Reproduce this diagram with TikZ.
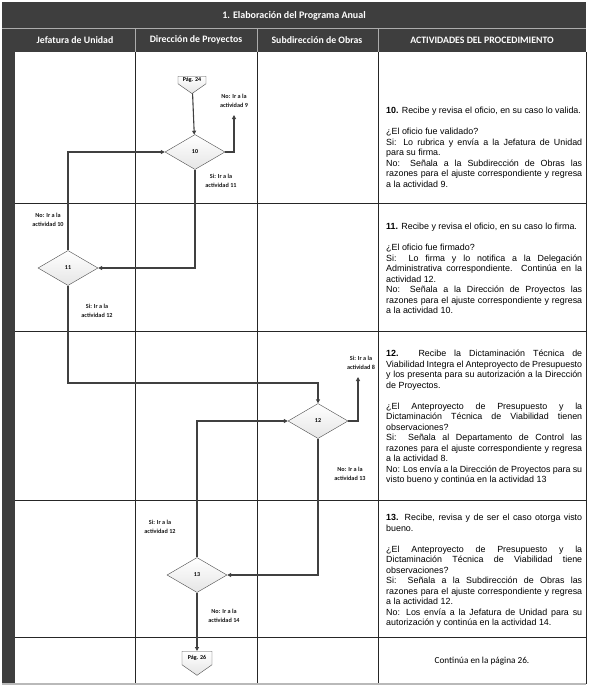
\documentclass[tikz,border=0pt]{standalone}
\usepackage{fontspec}
\setmainfont{Liberation Sans}
\newfontfamily\carlito{Carlito}
\usetikzlibrary{shapes.geometric, shapes.symbols, arrows.meta, positioning}
\usepackage{xcolor}
\definecolor{headgray}{HTML}{3E3E3E}
\definecolor{flowgray}{HTML}{404040}
\hyphenpenalty=10000
\exhyphenpenalty=10000
\tolerance=9999
\hbadness=10000
\hfuzz=4pt

\begin{document}
\begin{tikzpicture}[x=1pt, y=-1pt,
        decision/.style={draw=gray!60!black, diamond, aspect=1.7, minimum width=60pt, minimum height=35pt, inner sep=0pt, top color=white, bottom color=gray!20, font=\carlito\bfseries\fontsize{6}{7}\selectfont},
        offpage/.style={draw=gray!60!black, signal, signal to=south, signal pointer angle=110, inner sep=0pt, top color=white, bottom color=gray!20, font=\carlito\bfseries\fontsize{6}{7}\selectfont},
        arrow/.style={-{Triangle[length=4pt, width=4pt]}, line width=1.1pt, draw=flowgray},
        note/.style={align=center, inner sep=0pt, text=black!90, font=\carlito\bfseries\fontsize{6.2}{8.5}\selectfont},
        lanehead/.style={text=white, font=\carlito\bfseries\fontsize{9.8}{11}\selectfont},
        activity/.style={anchor=north west, text width=196pt, align=justify, inner sep=0pt, font=\fontsize{8.9}{10.5}\selectfont},
        grid/.style={line width=0.8pt, draw=black!85}
    ]
    \useasboundingbox (0,0) rectangle (590,689);

    % header and left strip
    \fill[headgray] (2,2) rectangle (586,52);
    \fill[headgray] (2,2) rectangle (15,684);
    \draw[gray!65, line width=0.6pt] (2,28) -- (586,28);
    \foreach \xx in {135,257,378} \draw[gray!65, line width=0.6pt] (\xx,28) -- (\xx,52);

    \node[lanehead, font=\carlito\bfseries\fontsize{10}{12}\selectfont] (title) at (294,16) {1. Elaboración del Programa Anual};
    \node[lanehead] (lane1) at (75,40) {Jefatura de Unidad};
    \node[lanehead] (lane2) at (196,40) {Dirección de Proyectos};
    \node[lanehead] (lane3) at (317,40) {Subdirección de Obras};
    \node[lanehead] (lane4) at (482,40) {ACTIVIDADES DEL PROCEDIMIENTO};

    % lanes and rows
    \foreach \xx in {135,257,378,586} \draw[grid] (\xx,52) -- (\xx,684);
    \foreach \yy in {203,331,500,637} \draw[grid] (15,\yy) -- (586,\yy);
    \draw[gray!55, line width=1.2pt] (2,684) -- (586,684);

    % flow
    \node[offpage, minimum width=28pt, minimum height=14pt] (p24) at (192,80) {Pág. 24};
    \node[decision] (d10) at (195,152) {10};
    \node[decision] (d11) at (68,268) {11};
    \node[decision] (d12) at (318,421) {12};
    \node[decision] (d13) at (197,575) {13};
    \node[offpage, minimum width=30pt, minimum height=20pt] (p26) at (197,658) {Pág. 26};

    \coordinate (to9) at (234,115);
    \coordinate (to8) at (358,377);
    \coordinate (down11) at (68,383);

    \draw[arrow] (p24) -- (d10);
    \draw[arrow] (d10.east) -| (to9);
    \draw[arrow] (d10.south) |- (d11.east);
    \draw[arrow] (d11.north) |- (d10.west);
    \draw[arrow] (d11.south) -- (down11) -| (d12.north);
    \draw[arrow] (d12.east) -| (to8);
    \draw[arrow] (d12.south) |- (d13.east);
    \draw[arrow] (d13.north) |- (d12.west);
    \draw[arrow] (d13.south) -- (p26.north);

    \node[note] (n9) at (234,101) {No: Ir a la\\actividad 9};
    \node[note] (n11) at (221,181) {Si: Ir a la\\actividad 11};
    \node[note] (n10) at (48,220) {No: Ir a la\\actividad 10};
    \node[note] (n12a) at (97,311) {Si: Ir a la\\actividad 12};
    \node[note] (n8) at (361,363) {Si: Ir a la\\actividad 8};
    \node[note] (n13) at (350,474) {No: Ir a la\\actividad 13};
    \node[note] (n12b) at (160,527) {Si: Ir a la\\actividad 12};
    \node[note] (n14) at (224,616) {No: Ir a la\\actividad 14};

    % activities
    \node[activity] (act10) at (386,107) {\textbf{10.} Recibe y revisa el oficio, en su caso lo valida.\par\vspace{10.5pt}
        ¿El oficio fue validado?\par
        Si: Lo rubrica y envía a la Jefatura de Unidad\linebreak para su firma.\par
        No: Señala a la Subdirección de Obras las\linebreak razones para el ajuste correspondiente y regresa\linebreak a la actividad 9.};
    \node[activity] (act11) at (386,223) {\textbf{11.} Recibe y revisa el oficio, en su caso lo firma.\par\vspace{10.5pt}
        ¿El oficio fue firmado?\par
        Si: Lo firma y lo notifica a la Delegación\linebreak Administrativa correspondiente. Continúa en la\linebreak actividad 12.\par
        No: Señala a la Dirección de Proyectos las\linebreak razones para el ajuste correspondiente y regresa\linebreak a la actividad 10.};
    \node[activity] (act12) at (386,350) {\textbf{12.} Recibe la Dictaminación Técnica de\linebreak Viabilidad Integra el Anteproyecto de Presupuesto\linebreak y los presenta para su autorización a la Dirección\linebreak de Proyectos.\par\vspace{10.5pt}
        ¿El Anteproyecto de Presupuesto y la\linebreak Dictaminación Técnica de Viabilidad tienen\linebreak observaciones?\par
        Si: Señala al Departamento de Control las\linebreak razones para el ajuste correspondiente y regresa\linebreak a la actividad 8.\par
        No: Los envía a la Dirección de Proyectos para su\linebreak visto bueno y continúa en la actividad 13};
    \node[activity] (act13) at (386,514) {\textbf{13.} Recibe, revisa y de ser el caso otorga visto\linebreak bueno.\par\vspace{10.5pt}
        ¿El Anteproyecto de Presupuesto y la\linebreak Dictaminación Técnica de Viabilidad tiene\linebreak observaciones?\par
        Si: Señala a la Subdirección de Obras las\linebreak razones para el ajuste correspondiente y regresa\linebreak a la actividad 12.\par
        No: Los envía a la Jefatura de Unidad para su\linebreak autorización y continúa en la actividad 14.};
    \node[font=\carlito\fontsize{9.2}{11}\selectfont] (cont) at (482,661) {Continúa en la página 26.};

\end{tikzpicture}
\end{document}
